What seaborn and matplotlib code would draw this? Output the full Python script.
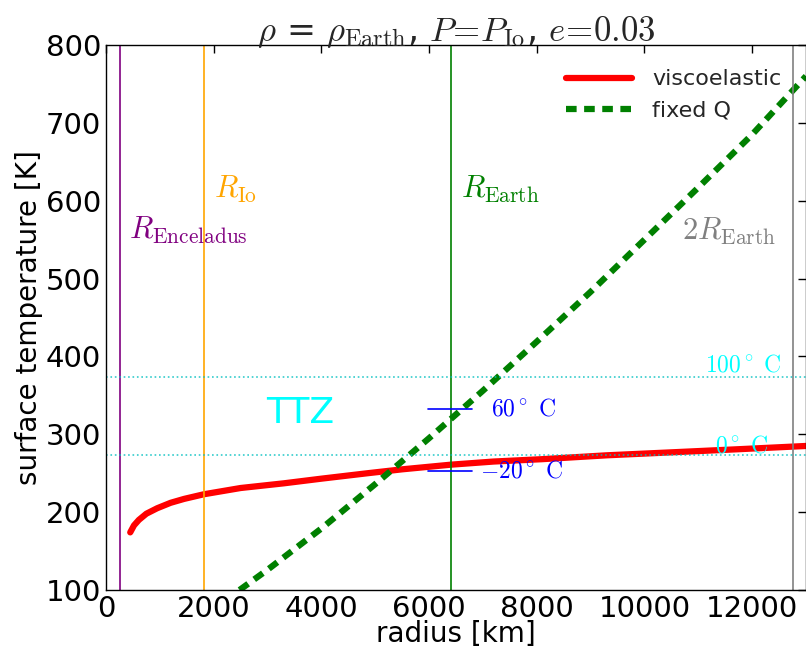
import matplotlib
matplotlib.use('Agg')
import matplotlib.pyplot as plt
import seaborn as sns
import pandas as pd

# data
visco_r = [450, 520, 610, 750, 950, 1200, 1450, 1820, 2500, 3300, 4000,
           4860, 5500, 6410, 7200, 8090, 9300, 10560, 11800, 13000]
visco_T = [174, 183, 190, 198, 205, 212, 217, 223, 231, 237, 243,
           250, 255, 261, 265, 268, 273, 277, 281, 285]
fixedq_r = [2480, 3000, 4000, 5000, 6000, 7000, 8000, 9000, 10000, 11000,
            12000, 13000]
fixedq_T = [100, 126, 179, 236, 295, 356, 419, 483, 550, 617, 685, 760]

body_r = [252, 1821, 6400, 12760]
body_col = ['purple', 'orange', 'green', 'gray']
body_lbl = [r'$R_{\rm Enceladus}$', r'$R_{\rm Io}$', r'$R_{\rm Earth}$',
            r'$2R_{\rm Earth}$']
body_lbl_xy = [(420, 562), (2000, 614), (6600, 614), (10700, 560)]

water_T = [273, 373]
marks_T = [253, 333]
marks_lbl = [r'$-20^\circ\ \mathrm{C}$', r'$60^\circ\ \mathrm{C}$']
marks_lbl_x = [6950, 7150]

sns.set_style('white')
plt.rcParams['mathtext.fontset'] = 'cm'
plt.rcParams['font.family'] = ['DejaVu Sans']

fig = plt.figure(figsize=(8.06, 6.55), dpi=100)
ax = fig.add_axes([106/806, 65/655, 700/806, 545/655])

df_v = pd.DataFrame({'r': visco_r, 'T': visco_T})
df_q = pd.DataFrame({'r': fixedq_r, 'T': fixedq_T})
sns.lineplot(data=df_v, x='r', y='T', ax=ax, color='red', lw=4.5,
             label='viscoelastic')
sns.lineplot(data=df_q, x='r', y='T', ax=ax, color='green', lw=4.5,
             label='fixed Q')
ax.lines[-1].set_dashes((1.7, 1.2))

for r, c, lbl, (tx, ty) in zip(body_r, body_col, body_lbl, body_lbl_xy):
    ax.axvline(r, color=c, lw=1.2)
    ax.text(tx, ty, lbl, color=c, fontsize=22, va='center')

for t in water_T:
    ax.axhline(t, color='c', ls=':', lw=1.2, alpha=0.8)
ax.text(12550, 380, r'$100^\circ\ \mathrm{C}$', color='cyan', fontsize=17,
        ha='right')
ax.text(12300, 276, r'$0^\circ\ \mathrm{C}$', color='cyan', fontsize=17,
        ha='right')
ax.text(3600, 327, 'TTZ', color='cyan', fontsize=26, ha='center',
        va='center')

for t, lbl, lx in zip(marks_T, marks_lbl, marks_lbl_x):
    ax.plot([5980, 6800], [t, t], color='blue', lw=1.2)
    ax.text(lx, t, lbl, color='blue', fontsize=17, va='center')

ax.set_xlim(0, 13000)
ax.set_ylim(100, 800)
ax.set_xticks([0, 2000, 4000, 6000, 8000, 10000, 12000])
ax.set_xlabel('radius [km]', fontsize=20, labelpad=-2, color='black')
ax.set_ylabel('surface temperature [K]', fontsize=20, labelpad=2,
              color='black')
ax.set_title(r'$\rho$ = $\rho_{\rm Earth}$, $P\!=\!P_{\rm Io}$, $e\!=\!0.03$',
             fontsize=25, pad=3)
ax.tick_params(direction='in', top=True, right=True, labelsize=21,
               length=6, width=1, colors='black')
for s in ax.spines.values():
    s.set_color('black')
    s.set_linewidth(1)

ax.legend(loc='upper right', frameon=False, fontsize=16, handlelength=3,
          handletextpad=0.9, borderaxespad=0.7)

fig.savefig('out.png', dpi=100)
